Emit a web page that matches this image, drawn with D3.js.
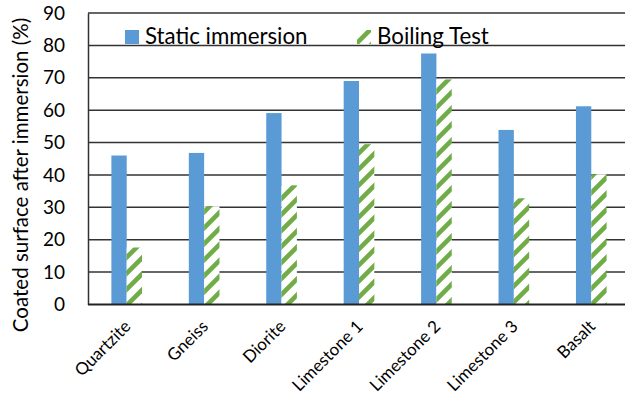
<!DOCTYPE html>
<html>
<head>
<meta charset="utf-8">
<script src="https://cdn.jsdelivr.net/npm/d3@7"></script>
<style>
  html, body { margin: 0; padding: 0; background: #fff; }
  svg { display: block; font-family: Lato, "Liberation Sans", sans-serif; }
</style>
</head>
<body>
<svg id="chart" width="625" height="398"></svg>
<script>
// Rock types tested
const categories = ["Quartzite", "Gneiss", "Diorite", "Limestone 1", "Limestone 2", "Limestone 3", "Basalt"];
// Coated surface after immersion (%)
const staticImmersion = [46.0, 46.8, 59.1, 69.0, 77.5, 53.9, 61.2];
const boilingTest = [17.6, 30.3, 36.8, 49.5, 69.5, 32.8, 40.2];
const yTicks = [0, 10, 20, 30, 40, 50, 60, 70, 80, 90];
const seriesNames = ["Static immersion", "Boiling Test"];

const blue = "#5b9bd5";
const green = "#70ad47";

const svg = d3.select("#chart");
const plot = { left: 88, right: 630, top: 13, bottom: 304.5 };

const x = d3.scaleBand().domain(categories).range([plot.left, plot.right]);
const y = d3.scaleLinear().domain([0, 90]).range([plot.bottom, plot.top]);
const barW = x.bandwidth() * 0.198;

// Diagonal hatch used for the boiling-test series
const defs = svg.append("defs");
const pat = defs.append("pattern")
  .attr("id", "hatch")
  .attr("patternUnits", "userSpaceOnUse")
  .attr("width", 16).attr("height", 16);
pat.append("rect").attr("width", 16).attr("height", 16).attr("fill", "#fff");
pat.append("path")
  .attr("d", "M-4,4 L4,-4 M0,16 L16,0 M12,20 L20,12")
  .attr("stroke", green).attr("stroke-width", 4.6);

// Gridlines
svg.append("g")
  .selectAll("line")
  .data(yTicks.filter(t => t > 0))
  .join("line")
  .attr("x1", plot.left).attr("x2", plot.right)
  .attr("y1", d => y(d)).attr("y2", d => y(d))
  .attr("stroke", "#333").attr("stroke-width", 1.5);

// Bars
const groups = svg.append("g")
  .selectAll("g")
  .data(categories)
  .join("g");

groups.append("rect")
  .attr("x", d => x(d) + x.bandwidth() / 2 - barW)
  .attr("y", (d, i) => y(staticImmersion[i]))
  .attr("width", barW)
  .attr("height", (d, i) => y(0) - y(staticImmersion[i]))
  .attr("fill", blue);

groups.append("rect")
  .attr("x", d => x(d) + x.bandwidth() / 2)
  .attr("y", (d, i) => y(boilingTest[i]))
  .attr("width", barW)
  .attr("height", (d, i) => y(0) - y(boilingTest[i]))
  .attr("fill", "url(#hatch)");

// Y axis
const yAxis = svg.append("g")
  .attr("transform", `translate(${plot.left},0)`)
  .call(d3.axisLeft(y).tickValues(yTicks).tickSize(0).tickPadding(23));
yAxis.select(".domain").attr("stroke", "#333").attr("stroke-width", 1.5);
yAxis.selectAll("text")
  .attr("font-family", "Lato, sans-serif")
  .attr("font-size", 19)
  .attr("fill", "#000");

// X axis
const xAxis = svg.append("g")
  .attr("transform", `translate(0,${plot.bottom})`)
  .call(d3.axisBottom(x).tickSize(0).tickPadding(0));
xAxis.select(".domain").attr("stroke", "#222").attr("stroke-width", 2).attr("d", `M${plot.left},0H${plot.right}`);
xAxis.selectAll("text")
  .attr("font-family", "Lato, sans-serif")
  .attr("font-size", 17)
  .attr("fill", "#000")
  .attr("text-anchor", "end")
  .attr("dy", 0)
  .attr("transform", "translate(5,23) rotate(-45)");

// Y-axis title
svg.append("text")
  .attr("transform", `translate(28,${(plot.top + 337) / 2}) rotate(-90)`)
  .attr("text-anchor", "middle")
  .attr("font-size", 20.5)
  .attr("fill", "#000")
  .text("Coated surface after immersion (%)");

// Legend
const legend = svg.append("g");
const legendItems = [
  { name: seriesNames[0], fill: blue, x: 125 },
  { name: seriesNames[1], fill: "url(#hatch)", x: 357 }
];
legendItems.forEach(item => {
  legend.append("rect")
    .attr("x", item.x).attr("y", 30)
    .attr("width", 14).attr("height", 14)
    .attr("fill", item.fill);
  legend.append("text")
    .attr("x", item.x + 20).attr("y", 44)
    .attr("font-size", 22.3)
    .attr("fill", "#000")
    .text(item.name);
});
</script>
</body>
</html>
